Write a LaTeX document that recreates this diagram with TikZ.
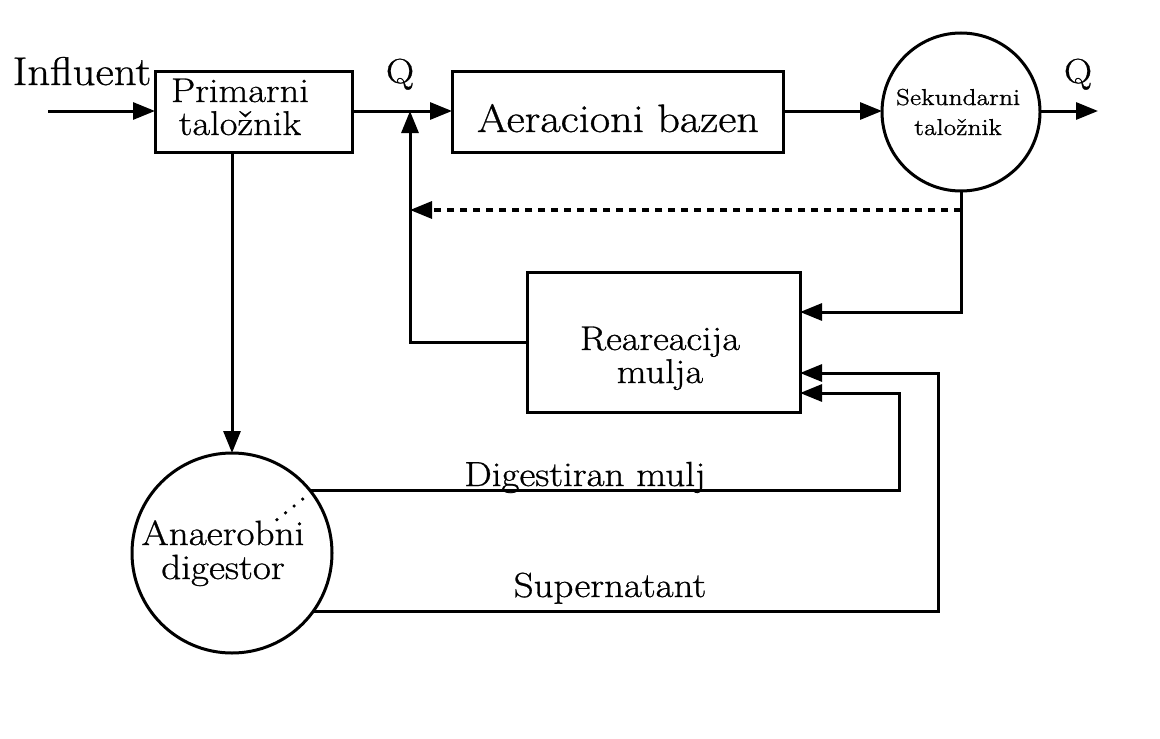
\documentclass[tikz,border=0pt]{standalone}
\usepackage{fontspec}
\setmainfont{Latin Modern Roman}[FakeStretch=1.12,FakeBold=0.8]
\usetikzlibrary{arrows.meta}
\begin{document}
\begin{tikzpicture}[x=0.5pt,y=-0.5pt,
  line width=1.5pt,
  arr/.style={-{Triangle[length=11pt,width=8.5pt]}},
  box/.style={draw,rectangle,inner sep=0pt,outer sep=0pt},
  tank/.style={draw,circle,inner sep=0pt,outer sep=0pt},
  txt/.style={anchor=base,align=center,inner sep=0pt},
  lbl/.style={anchor=base,inner sep=0pt,font=\fontsize{17.4}{18}\selectfont}]
\useasboundingbox (0,0) rectangle (1160,738);

% process units
\node[box,minimum width=98.5pt,minimum height=40pt] (prim) at (253.5,112) {};
\node[box,minimum width=165.5pt,minimum height=40pt] (aer) at (617.5,112) {};
\node[tank,minimum size=79pt] (sek) at (961,112) {};
\node[box,minimum width=136.5pt,minimum height=70pt] (rea) at (663.5,342) {};
\node[tank,minimum size=100pt] (ana) at (232,553) {};

% unit names (anchored on the baseline of the last line)
\node[txt,font=\fontsize{17.2}{16.5}\selectfont] (primt) at (240,135) {Primarni\\talo\v{z}nik};
\node[txt,font=\fontsize{19.8}{20}\selectfont] (aert) at (618,132) {Aeracioni bazen};
\node[txt,font=\fontsize{11.5}{15}\selectfont] (sekt) at (958,135) {Sekundarni\\talo\v{z}nik};
\node[txt,font=\fontsize{17.2}{16.5}\selectfont] (reat) at (660,383) {Reareacija\\mulja};
\node[txt,font=\fontsize{17.5}{17}\selectfont] (anat) at (223,579) {Anaerobni\\digestor};

% free ends and bends
\coordinate (in) at (48,111);
\coordinate (out) at (1098,111);
\coordinate (j) at (410,111);
\coordinate (d1) at (961,210);
\coordinate (d2) at (410,210);
\coordinate (g1) at (899,490);
\coordinate (s1) at (938,612);

% main flow line
\draw[arr] (in) -- (in -| prim.west);
\draw[arr] (prim.east |- j) -- (j -| aer.west);
\draw[arr] (aer.east |- j) -- (j -| sek.west);
\draw[arr] (j -| sek.east) -- (out);

% sludge return
\draw[arr] (sek.south) |- ([yshift=15pt]rea.east);
\draw[arr,dash pattern=on 3.5pt off 3pt,line width=1.6pt] (d1) -- (d2);
\draw[arr] (rea.west) -| (j);

% digester lines
\draw[arr] (ana.north |- prim.south) -- (ana.north);
\draw[arr] (ana.39) -- (ana.39 -| g1) |- ([yshift=-25.5pt]rea.east);
\draw[arr] (ana.-36) -- (ana.-36 -| s1) |- ([yshift=-15.5pt]rea.east);
\draw[line width=1.8pt,line cap=round,dash pattern=on 0pt off 5.5pt] ([shift={(-7,9)}]ana.39) -- ++(-30,24);

% labels
\node[lbl,font=\fontsize{20}{20}\selectfont] (tin) at (82,85) {Influent};
\node[lbl] (q1) at (400,83) {Q};
\node[lbl] (q2) at (1078,83) {Q};
\node[lbl] (tdig) at (585,486) {Digestiran mulj};
\node[lbl] (tsup) at (610,597) {Supernatant};
\end{tikzpicture}
\end{document}
